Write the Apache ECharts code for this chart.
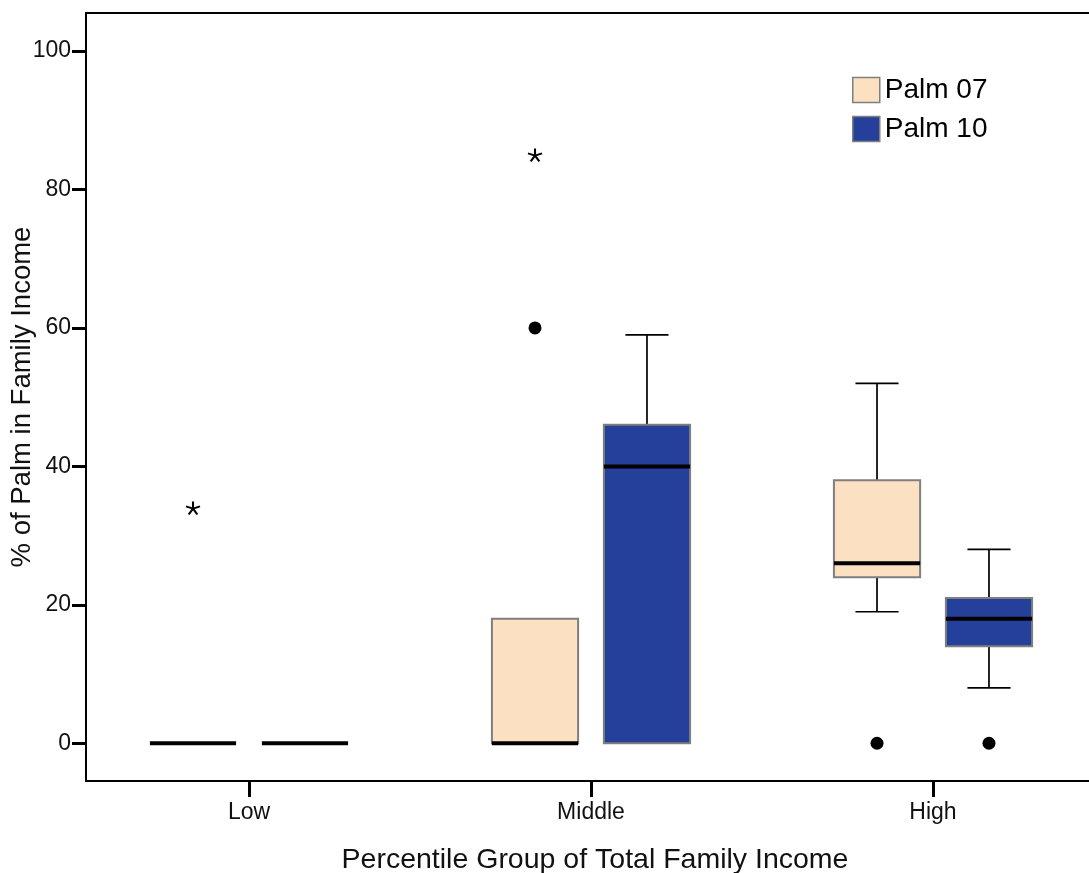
<!DOCTYPE html>
<html>
<head>
<meta charset="utf-8">
<title>% of Palm in Family Income by Percentile Group</title>
<script src="https://cdn.jsdelivr.net/npm/echarts@6/dist/echarts.min.js"></script>
<style>
  html, body { margin: 0; padding: 0; background: #fff; }
  #chart { width: 1089px; height: 873px; }
</style>
</head>
<body>
<div id="chart"></div>
<script>
// Income groups along the x axis
const categories = ['Low', 'Middle', 'High'];
const yTicks = [0, 20, 40, 60, 80, 100];

// Five-number summaries per group: [min whisker, Q1, median, Q3, max whisker]
const palm07Box = [
  [0, 0, 0, 0, 0],
  [0, 0, 0, 18, 18],
  [19, 24, 26, 38, 52]
];
const palm10Box = [
  [0, 0, 0, 0, 0],
  [0, 0, 40, 46, 59],
  [8, 14, 18, 21, 28]
];

// Points beyond the whiskers: [group, value, kind] (kind: 'outlier' = circle, 'extreme' = asterisk)
const palm07Outliers = [
  ['Low', 34, 'extreme'],
  ['Middle', 60, 'outlier'],
  ['Middle', 85, 'extreme'],
  ['High', 0, 'outlier']
];
const palm10Outliers = [
  ['High', 0, 'outlier']
];

const COLOR_07 = '#FBE1C1';
const COLOR_10 = '#24409A';
const BOX_EDGE = '#7f7f7f';
const FONT = 'Liberation Sans, Arial, sans-serif';

// Layout of boxes inside each category slot (in x-axis units)
const SHIFT = 0.1637;
const BOX_W = 0.252;

function boxRenderer(shift) {
  return function (params, api) {
    const xc = api.value(0) + shift;
    const pMin = api.coord([xc, api.value(1)]);
    const pQ1 = api.coord([xc, api.value(2)]);
    const pMed = api.coord([xc, api.value(3)]);
    const pQ3 = api.coord([xc, api.value(4)]);
    const pMax = api.coord([xc, api.value(5)]);
    const w = api.size([BOX_W, 0])[0];
    const half = w / 2;
    const capHalf = w / 4;
    const x = pMed[0];
    const children = [];
    const whisker = { stroke: '#000', lineWidth: 1.7 };
    if (pMax[1] < pQ3[1] - 0.5) {
      children.push({ type: 'line', shape: { x1: x, y1: pQ3[1], x2: x, y2: pMax[1] }, style: whisker });
      children.push({ type: 'line', shape: { x1: x - capHalf, y1: pMax[1], x2: x + capHalf, y2: pMax[1] }, style: whisker });
    }
    if (pMin[1] > pQ1[1] + 0.5) {
      children.push({ type: 'line', shape: { x1: x, y1: pQ1[1], x2: x, y2: pMin[1] }, style: whisker });
      children.push({ type: 'line', shape: { x1: x - capHalf, y1: pMin[1], x2: x + capHalf, y2: pMin[1] }, style: whisker });
    }
    if (pQ1[1] - pQ3[1] > 0.5) {
      children.push({
        type: 'rect',
        shape: { x: x - half, y: pQ3[1], width: w, height: pQ1[1] - pQ3[1] },
        style: { fill: api.visual('color'), stroke: BOX_EDGE, lineWidth: 2 }
      });
    }
    children.push({
      type: 'line',
      shape: { x1: x - half, y1: pMed[1], x2: x + half, y2: pMed[1] },
      style: { stroke: '#000', lineWidth: 4 }
    });
    return { type: 'group', children: children };
  };
}

function boxData(rows) {
  return rows.map(function (r, i) { return [i].concat(r); });
}

function outlierData(list, kind, shift) {
  return list.filter(function (o) { return o[2] === kind; })
    .map(function (o) { return [categories.indexOf(o[0]) + shift, o[1]]; });
}

const ASTERISK = 'path://M0,0L0,-1M0,0L0.951,-0.309M0,0L0.588,0.809M0,0L-0.588,0.809M0,0L-0.951,-0.309';

const chart = echarts.init(document.getElementById('chart'), null, { renderer: 'canvas' });

const X_MIN = -0.4766;
const X_MAX = 2.5;

chart.setOption({
  animation: false,
  backgroundColor: '#fff',
  textStyle: { fontFamily: FONT },
  grid: { left: 86, top: 13, width: 1018, height: 768, outerBoundsMode: 'none', containLabel: false },
  legend: {
    orient: 'vertical',
    left: 847,
    top: 71,
    itemWidth: 27,
    itemHeight: 25,
    itemGap: 11,
    selectedMode: false,
    textStyle: { fontFamily: FONT, fontSize: 28, color: '#000' },
    data: [
      { name: 'Palm 07', icon: 'rect', itemStyle: { borderColor: BOX_EDGE, borderWidth: 1.5 } },
      { name: 'Palm 10', icon: 'rect', itemStyle: { borderColor: BOX_EDGE, borderWidth: 1.5 } }
    ]
  },
  xAxis: [
    {
      type: 'value',
      min: X_MIN,
      max: X_MAX,
      splitLine: { show: false },
      axisLine: { show: true, onZero: false, lineStyle: { color: '#000', width: 2 } },
      axisTick: { show: true, length: 16, customValues: [0, 1, 2], lineStyle: { color: '#000', width: 3 } },
      axisLabel: {
        show: true,
        customValues: [0, 1, 2],
        margin: 20,
        fontSize: 23,
        color: '#111',
        fontFamily: FONT,
        formatter: function (v) { return categories[Math.round(v)]; }
      },
      name: 'Percentile Group of Total Family Income',
      nameLocation: 'middle',
      nameGap: 65,
      nameMoveOverlap: false,
      nameTextStyle: { fontSize: 28.5, color: '#111', fontFamily: FONT, align: 'center' }
    },
    {
      // top frame line
      type: 'value',
      position: 'top',
      min: X_MIN,
      max: X_MAX,
      splitLine: { show: false },
      axisLine: { show: true, onZero: false, lineStyle: { color: '#000', width: 2 } },
      axisTick: { show: false },
      axisLabel: { show: false }
    }
  ],
  yAxis: {
    type: 'value',
    min: -5.45,
    max: 105.5,
    splitLine: { show: false },
    axisLine: { show: true, onZero: false, lineStyle: { color: '#000', width: 2 } },
    axisTick: { show: true, length: 14, customValues: yTicks, lineStyle: { color: '#000', width: 3 } },
    axisLabel: { show: true, customValues: yTicks, margin: 15, fontSize: 23, color: '#111', fontFamily: FONT },
    name: '% of Palm in Family Income',
    nameLocation: 'middle',
    nameGap: 50,
    nameRotate: 90,
    nameMoveOverlap: false,
    nameTextStyle: { fontSize: 27.5, color: '#111', fontFamily: FONT }
  },
  series: [
    {
      name: 'Palm 07',
      type: 'custom',
      itemStyle: { color: COLOR_07 },
      renderItem: boxRenderer(-SHIFT),
      encode: { x: 0, y: [1, 2, 3, 4, 5] },
      data: boxData(palm07Box),
      z: 2
    },
    {
      name: 'Palm 10',
      type: 'custom',
      itemStyle: { color: COLOR_10 },
      renderItem: boxRenderer(SHIFT),
      encode: { x: 0, y: [1, 2, 3, 4, 5] },
      data: boxData(palm10Box),
      z: 2
    },
    {
      name: 'outliers',
      type: 'scatter',
      symbol: 'circle',
      symbolSize: 13,
      itemStyle: { color: '#000', opacity: 1 },
      data: outlierData(palm07Outliers, 'outlier', -SHIFT).concat(outlierData(palm10Outliers, 'outlier', SHIFT)),
      z: 3
    },
    {
      name: 'extremes',
      type: 'scatter',
      symbol: ASTERISK,
      symbolSize: [14, 13],
      itemStyle: { color: 'rgba(0,0,0,0)', borderColor: '#000', borderWidth: 2, opacity: 1 },
      data: outlierData(palm07Outliers, 'extreme', -SHIFT).concat(outlierData(palm10Outliers, 'extreme', SHIFT)),
      z: 3
    }
  ]
});
</script>
</body>
</html>
